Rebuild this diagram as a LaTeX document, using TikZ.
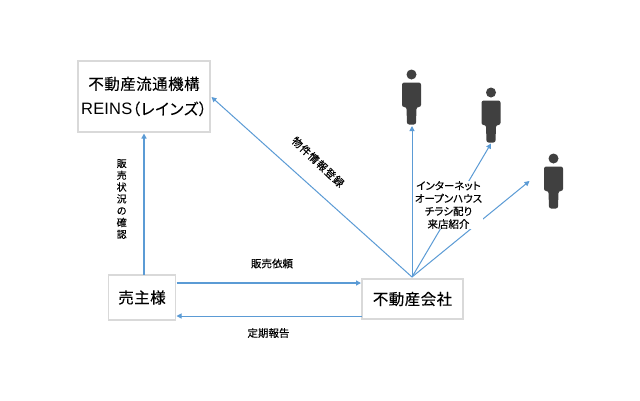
\documentclass[tikz,border=0pt]{standalone}
\usepackage{fontspec}
\setmainfont[RawFeature={+palt},FakeBold=0.1]{Noto Sans CJK JP}
\newfontfamily\labelfont[RawFeature={+palt},FakeBold=0.2]{Noto Sans CJK JP}
\newfontfamily\latinfont{Liberation Sans}
\usetikzlibrary{arrows.meta}
\definecolor{linkblue}{HTML}{5B9BD5}
\definecolor{boxgrey}{HTML}{D9D9D9}
\definecolor{figgrey}{HTML}{404040}
\tikzset{
  x=1pt,y=-1pt,
  box/.style={draw=boxgrey,line width=1.3pt,fill=white,inner sep=0pt,text=black,align=center,font=\fontsize{15.5}{25}\selectfont},
  link/.style={draw=linkblue,line width=1pt,-{Triangle[length=5pt,width=5pt]}},
  linkthick/.style={link,line width=1.5pt},
  small/.style={font=\labelfont\fontsize{10.5}{12.8}\selectfont,text=black,inner sep=0pt,align=center},
  person/.pic={
    \fill[figgrey] (0,-9.5) circle (5);
    \fill[figgrey,rounded corners=2.2pt] (-9.5,-1.5) -- (9.5,-1.5) -- (9.5,23) -- (5,23) -- (4.5,40.5) -- (-4.5,40.5) -- (-5,23) -- (-9.5,23) -- cycle;
  }
}
\begin{document}
\begin{tikzpicture}
\useasboundingbox (0,0) rectangle (640,400);
\fill[white] (0,0) rectangle (640,400);
\node[box,minimum width=132pt,minimum height=71pt] (reins) at (144,96.5) {\addfontfeature{LetterSpace=3}不動産流通機構\\{\latinfont\fontsize{16.5}{25}\selectfont\addfontfeature{LetterSpace=1}REINS}{\addfontfeature{LetterSpace=5}（レインズ）}};
\node[box,minimum width=67pt,minimum height=45pt] (seller) at (142,297.5) {\addfontfeature{LetterSpace=3}売主様};
\node[box,minimum width=101pt,minimum height=40pt] (agent) at (412.5,299) {\addfontfeature{LetterSpace=3}不動産会社};
\pic at (411.5,84) {person};
\pic at (491,102) {person};
\pic at (553.5,168) {person};
\coordinate (fan) at (412,277);
\coordinate (p1) at (412,126);
\coordinate (p2) at (491,143.5);
\coordinate (p3) at (529.5,181);
\coordinate (sellerup) at (144,274.5);
\coordinate (reinsdown) at (144,133.5);
\coordinate (sellerr) at (176.5,283);
\coordinate (agentl) at (361,283);
\coordinate (agentl2) at (361.5,316);
\coordinate (sellerr2) at (176.5,316);
\coordinate (reinsr) at (211.5,97);
\draw[linkthick] (sellerup) -- (reinsdown);
\draw[linkthick] (sellerr) -- (agentl);
\draw[link] (agentl2) -- (sellerr2);
\draw[link] (fan) -- (reinsr);
\draw[link] (fan) -- (p1);
\draw[link] (fan) -- (p2);
\draw[link] (fan) -- (p3);
\node[small,fill=white,inner xsep=1pt] (media) at (448.5,205) {インターネット\\オープンハウス\\チラシ配り\\来店紹介};
\node[small,font=\labelfont\fontsize{10}{11.8}\selectfont] (status) at (121.7,199) {販\\売\\状\\況\\の\\確\\認};
\node[small,rotate=-43.5,font=\labelfont\fontsize{10.5}{12}\selectfont\addfontfeature{LetterSpace=8}] (register) at (318,162) {物件情報登録};
\node[small] (request) at (272,263.5) {販売依頼};
\node[small] (report) at (268.5,333) {定期報告};
\end{tikzpicture}
\end{document}
